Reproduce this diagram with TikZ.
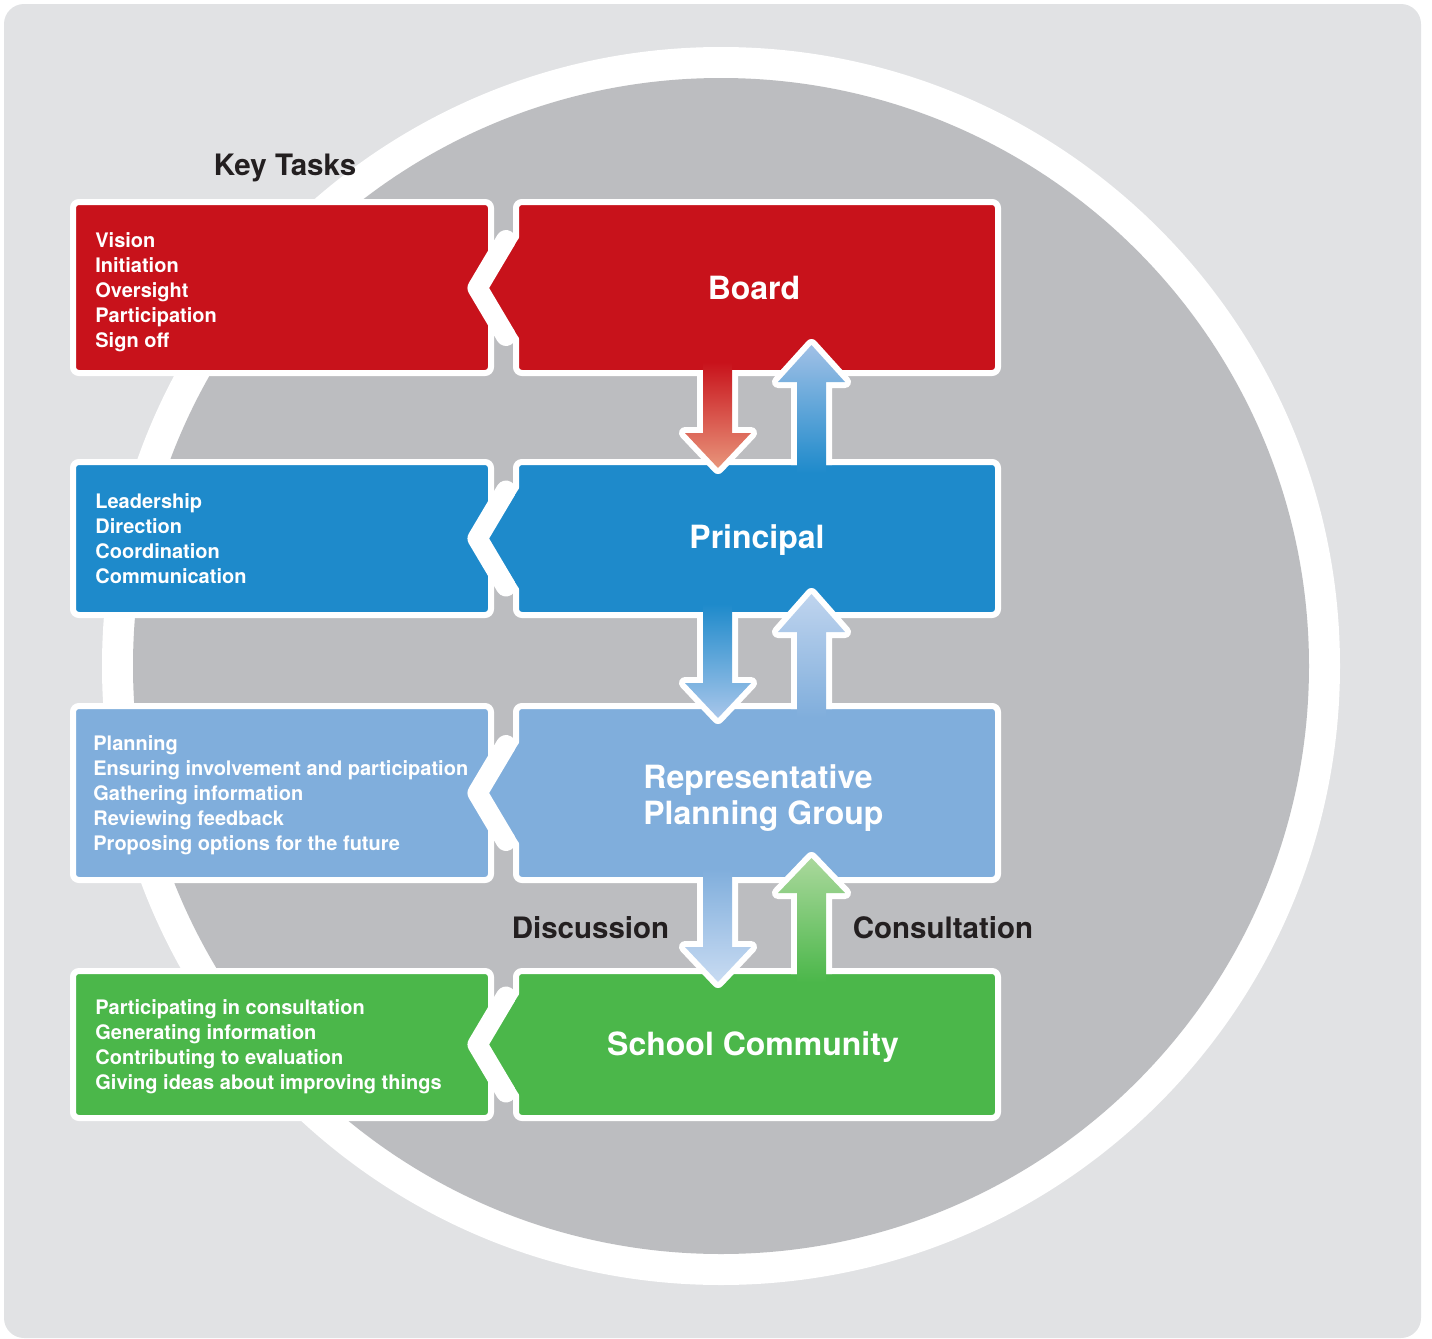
\documentclass[tikz,border=0pt]{standalone}
\usepackage{fontspec}
\setmainfont{TeX Gyre Heros}
\definecolor{bgc}{HTML}{E1E2E4}
\definecolor{circ}{HTML}{BCBDC0}
\definecolor{redc}{HTML}{C8121B}
\definecolor{bluec}{HTML}{1E8ACB}
\definecolor{lbluec}{HTML}{80AEDC}
\definecolor{greenc}{HTML}{4BB74A}
\definecolor{txt}{HTML}{231F20}
\definecolor{salmon}{HTML}{E8957B}
\definecolor{aoneup}{HTML}{A0C0E6}
\definecolor{atwodn}{HTML}{A8C6EA}
\definecolor{atwoup}{HTML}{BFD4EE}
\definecolor{athreedn}{HTML}{C8DBF2}
\definecolor{athreeup}{HTML}{AAD89C}
\tikzset{
  boxstyle/.style={draw=white, line width=3pt, rounded corners=3pt},
  bandstyle/.style={draw=white, line width=10pt, line cap=round, line join=round},
  arrline/.style={draw=white, line width=6pt, line join=round},
  task/.style={anchor=base west, text=white, font=\bfseries\fontsize{10}{12}\selectfont, inner sep=0pt},
  titlestyle/.style={anchor=base, text=white, font=\bfseries\fontsize{16}{19}\selectfont, inner sep=0pt},
  labstyle/.style={anchor=base, text=txt, font=\bfseries\fontsize{14.75}{17}\selectfont, inner sep=0pt}
}
% #1 row centre y, #2 colour
\newcommand\ChevronRow[2]{%
  \fill[#2] (487,#1) -- (521,{#1-53}) -- (521,{#1+53}) -- cycle;
  \draw[bandstyle] (506,{#1-48}) -- (477.5,#1) -- (506,{#1+48});
}
% down arrow: #1 ystart, #2 fill start, #3 base, #4 tip, #5 top colour, #6 bottom colour
\newcommand\DnArrow[6]{%
  \draw[arrline] (703,#1) -- (703,#3) -- (685,#3) -- (718,#4) -- (751,#3) -- (732,#3) -- (732,#1);
  \shade[top color=#5, bottom color=#6] (703,#2) -- (703,#3) -- (685,#3) -- (718,#4) -- (751,#3) -- (732,#3) -- (732,#2) -- cycle;
}
% up arrow: #1 ystart, #2 fill start, #3 base, #4 tip, #5 top colour, #6 bottom colour
\newcommand\UpArrow[6]{%
  \draw[arrline] (797,#1) -- (797,#3) -- (778,#3) -- (811.5,#4) -- (845,#3) -- (826,#3) -- (826,#1);
  \shade[top color=#5, bottom color=#6] (797,#2) -- (797,#3) -- (778,#3) -- (811.5,#4) -- (845,#3) -- (826,#3) -- (826,#2) -- cycle;
}
\begin{document}
\begin{tikzpicture}[x=0.5pt,y=-0.5pt]
\useasboundingbox (0,0) rectangle (1432,1339);
% background
\fill[bgc, rounded corners=10pt] (4,4) rectangle (1421,1338);
\fill[white] (721,666) circle (619);
\fill[circ] (721,666) circle (588);

% boxes
\path[boxstyle, fill=redc] (73,202) rectangle (491,373);
\path[boxstyle, fill=redc] (516,202) rectangle (998,373);
\ChevronRow{288}{redc}

\path[boxstyle, fill=bluec] (73,462) rectangle (491,615);
\path[boxstyle, fill=bluec] (516,462) rectangle (998,615);
\ChevronRow{538.5}{bluec}

\path[boxstyle, fill=lbluec] (73,706) rectangle (491,880);
\path[boxstyle, fill=lbluec] (516,706) rectangle (998,880);
\ChevronRow{793}{lbluec}

\path[boxstyle, fill=greenc] (73,971) rectangle (491,1118);
\path[boxstyle, fill=greenc] (516,971) rectangle (998,1118);
\ChevronRow{1044.5}{greenc}

% arrows
\DnArrow{370}{362}{433}{468}{redc}{salmon}
\UpArrow{465}{473}{382}{345}{aoneup}{bluec}
\DnArrow{612}{604}{683}{718}{bluec}{atwodn}
\UpArrow{709}{717}{632}{594}{atwoup}{lbluec}
\DnArrow{877}{869}{947}{982}{lbluec}{athreedn}
\UpArrow{974}{982}{893}{858}{athreeup}{greenc}

% titles
\node[titlestyle] (board) at (754,299.5) {Board};
\node[titlestyle] (principal) at (757,548.5) {Principal};
\node[titlestyle, anchor=base west] (rpga) at (643,788.5) {Representative};
\node[titlestyle, anchor=base west] (rpgb) at (643,824.5) {Planning Group};
\node[titlestyle] (school) at (753,1055.5) {School Community};

% labels
\node[labstyle] (keytasks) at (285,175.5) {Key Tasks};
\node[labstyle] (discussion) at (590.5,938.5) {Discussion};
\node[labstyle] (consultation) at (943,938.5) {Consultation};

% key tasks
\foreach \t [count=\i] in {Vision, Initiation, Oversight, Participation, Sign off}
  \node[task] (ta\i) at (95,{247+25*(\i-1)}) {\t};
\foreach \t [count=\i] in {Leadership, Direction, Coordination, Communication}
  \node[task] (tb\i) at (95,{508+25*(\i-1)}) {\t};
\foreach \t [count=\i] in {Planning, Ensuring involvement and participation, Gathering information, Reviewing feedback, Proposing options for the future}
  \node[task] (tc\i) at (93,{750+25*(\i-1)}) {\t};
\foreach \t [count=\i] in {Participating in consultation, Generating information, Contributing to evaluation, Giving ideas about improving things}
  \node[task] (td\i) at (95,{1014+25*(\i-1)}) {\t};
\end{tikzpicture}
\end{document}
